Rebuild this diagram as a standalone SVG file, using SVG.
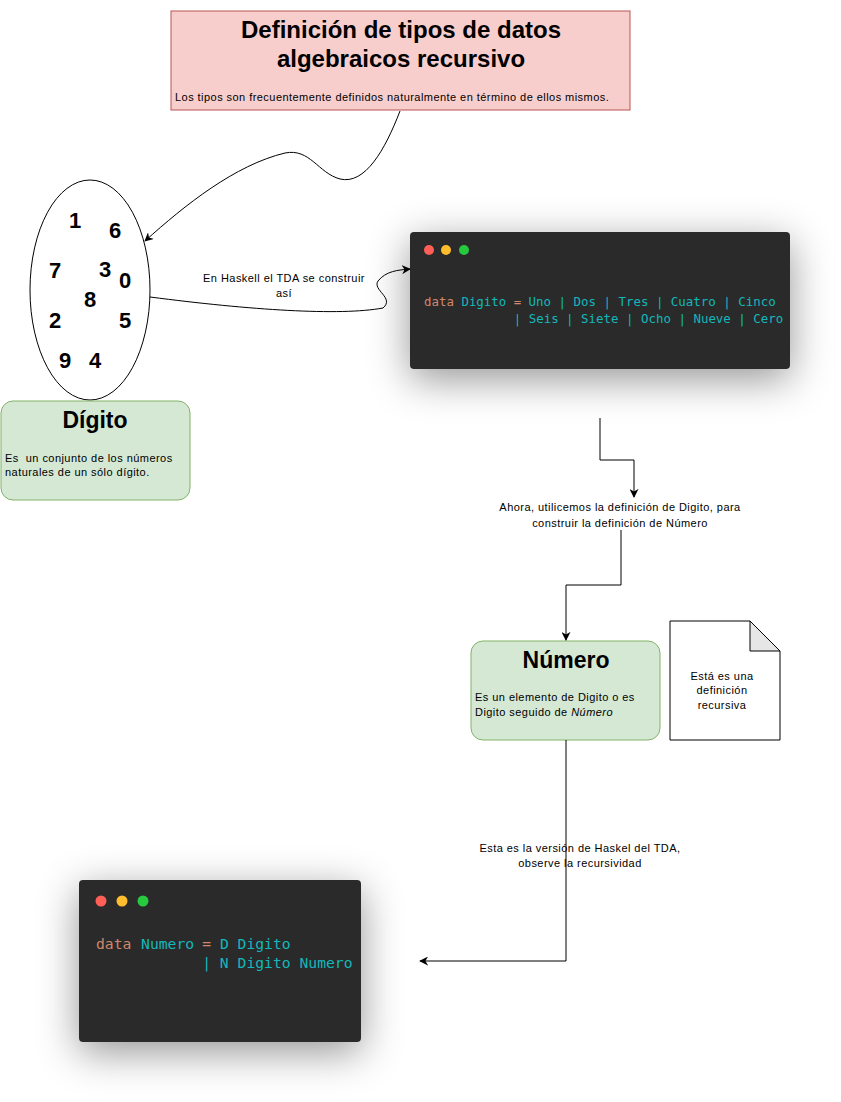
<svg xmlns="http://www.w3.org/2000/svg" width="841" height="1102" viewBox="0 0 841 1102">
<defs>
<style>
.t{font-family:"Liberation Sans",Arial,sans-serif;fill:#000}
.h{font-weight:bold;text-anchor:middle}
.s{font-size:11px;letter-spacing:0.45px}
.lbl{font-size:11px;letter-spacing:0.45px;text-anchor:middle}
.dg{font-family:"Liberation Sans",Arial,sans-serif;font-weight:bold;font-size:22px;text-anchor:middle}
.code{font-family:"DejaVu Sans Mono","Liberation Mono",monospace}
.kw{fill:#d0876a}
.ty{fill:#12b8bb}
.edge{fill:none;stroke:#000;stroke-width:1}
.green{fill:#d5e8d4;stroke:#82b366;stroke-width:1}
.win{fill:#2b2b2b}
</style>
<marker id="arr" viewBox="0 0 10 10" refX="9" refY="5" markerWidth="9" markerHeight="9" orient="auto" markerUnits="userSpaceOnUse">
<path d="M0,0 L10,5 L0,10 L3,5 Z" fill="#000"/>
</marker>
<filter id="sh" x="-40%" y="-60%" width="180%" height="220%">
<feDropShadow dx="0" dy="10" stdDeviation="20" flood-color="#000" flood-opacity="0.42"/>
</filter>
</defs>

<g id="title">
<rect x="171" y="11" width="459" height="99" fill="#f8cecc" stroke="#b85450"/>
<text class="t h" x="401" y="38" font-size="24">Definición de tipos de datos</text>
<text class="t h" x="401" y="67" font-size="24">algebraicos recursivo</text>
<text class="t s" x="175" y="101">Los tipos son frecuentemente definidos naturalmente en término de ellos mismos.</text>
</g>

<g id="digit-set">
<ellipse cx="90" cy="290" rx="60" ry="110" fill="#fff" stroke="#000"/>
<text class="dg" x="75" y="228">1</text>
<text class="dg" x="115" y="238">6</text>
<text class="dg" x="55" y="278">7</text>
<text class="dg" x="105" y="277">3</text>
<text class="dg" x="125" y="288">0</text>
<text class="dg" x="90" y="307">8</text>
<text class="dg" x="55" y="328">2</text>
<text class="dg" x="125" y="328">5</text>
<text class="dg" x="65" y="368">9</text>
<text class="dg" x="95" y="368">4</text>
</g>

<g id="digito">
<rect class="green" x="1" y="401" width="189" height="99" rx="12"/>
<text class="t h" x="95" y="428" font-size="23">Dígito</text>
<text class="t s" x="5" y="462" xml:space="preserve" style="white-space:pre">Es  un conjunto de los números</text>
<text class="t s" x="5" y="476">naturales de un sólo dígito.</text>
</g>

<g id="code-digito">
<rect class="win" x="410" y="232" width="380" height="137" rx="4" filter="url(#sh)"/>
<circle cx="429" cy="250" r="5" fill="#ff5f56"/>
<circle cx="446" cy="250" r="5" fill="#ffbd2e"/>
<circle cx="464" cy="250" r="5" fill="#27c93f"/>
<text class="code" font-size="12.45" y="306"><tspan x="424" class="kw">data</tspan><tspan x="461.4" class="ty">Digito</tspan><tspan x="513.7" class="kw">=</tspan><tspan x="528.6" class="ty">Uno | Dos | Tres | Cuatro | Cinco</tspan></text>
<text class="code ty" font-size="12.45" x="513.7" y="323">| Seis | Siete | Ocho | Nueve | Cero</text>
</g>

<g id="numero">
<rect class="green" x="471" y="641" width="189" height="99" rx="12"/>
<text class="t h" x="566" y="668" font-size="23">Número</text>
<text class="t s" x="475" y="701">Es un elemento de Digito o es</text>
<text class="t s" x="475" y="716">Digito seguido de <tspan font-style="italic">Número</tspan></text>
</g>

<g id="note">
<path d="M670,621 H750 L780,651 V740 H670 Z" fill="#fff" stroke="#000"/>
<path d="M750,621 V651 H780 Z" fill="#e6e6e6" stroke="#000"/>
<text class="t lbl" x="722" y="680">Está es una</text>
<text class="t lbl" x="722" y="694">definición</text>
<text class="t lbl" x="722" y="709">recursiva</text>
</g>

<g id="code-numero">
<rect class="win" x="79" y="880" width="282" height="162" rx="4" filter="url(#sh)"/>
<circle cx="101" cy="901" r="5.5" fill="#ff5f56"/>
<circle cx="122" cy="901" r="5.5" fill="#ffbd2e"/>
<circle cx="143" cy="901" r="5.5" fill="#27c93f"/>
<text class="code" font-size="14.7" y="949"><tspan x="96" class="kw">data</tspan><tspan x="141.1" class="ty">Numero</tspan><tspan x="202.2" class="kw">=</tspan><tspan x="219.9" class="ty">D Digito</tspan></text>
<text class="code ty" font-size="14.7" x="202.2" y="968">| N Digito Numero</text>
</g>

<g id="connectors">
<path class="edge" d="M400,111 C385,150 365,185 340,179 C318,173 310,148 285,153 C235,165 185,205 145,241" marker-end="url(#arr)"/>
<path class="edge" d="M150,297 C250,310 340,316 383,308 C395,298 372,290 378,281 C386,271 398,270 410,269" marker-end="url(#arr)"/>
<path class="edge" d="M600,418 V460 H634 V497" marker-end="url(#arr)"/>
<path class="edge" d="M621,530 V585 H566 V640" marker-end="url(#arr)"/>
<path class="edge" d="M566,740 V961 H420" marker-end="url(#arr)"/>
<text class="t lbl" x="284" y="282">En Haskell el TDA se construir</text>
<text class="t lbl" x="284" y="297">así</text>
<text class="t lbl" x="620" y="511">Ahora, utilicemos la definición de Digito, para</text>
<text class="t lbl" x="620" y="527">construir la definición de Número</text>
<text class="t lbl" x="580" y="852">Esta es la versión de Haskel del TDA,</text>
<text class="t lbl" x="580" y="867">observe la recursividad</text>
</g>
</svg>
